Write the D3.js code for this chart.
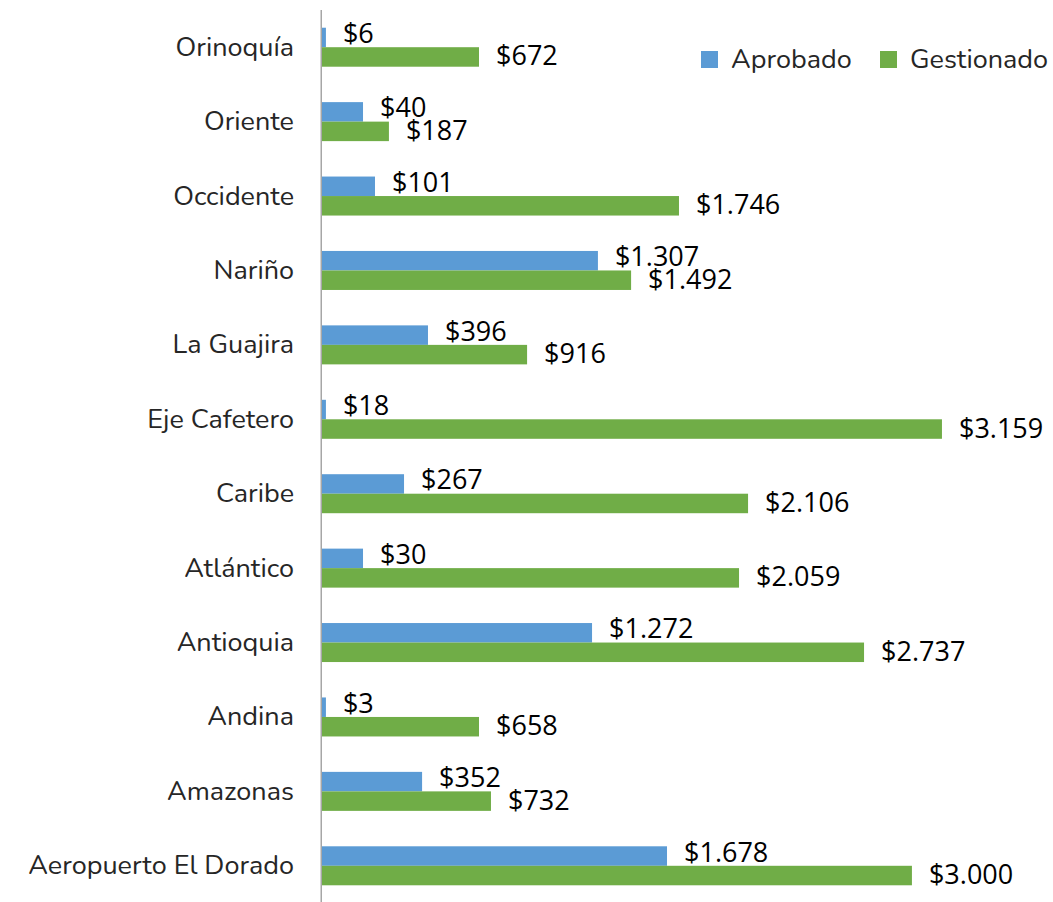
<!DOCTYPE html>
<html>
<head>
<meta charset="utf-8">
<script src="https://cdn.jsdelivr.net/npm/d3@7"></script>
<style>
  body { margin: 0; background: #fff; }
  svg { display: block; }
</style>
</head>
<body>
<div id="chart"></div>
<script>
// Regiones, de arriba hacia abajo
const regiones = [
  "Orinoquía", "Oriente", "Occidente", "Nariño", "La Guajira", "Eje Cafetero",
  "Caribe", "Atlántico", "Antioquia", "Andina", "Amazonas", "Aeropuerto El Dorado"
];

// Largo de las barras
const aprobado   = [20, 209, 270, 1406, 540, 20, 418, 209, 1376, 20, 510, 1758];
const gestionado = [800, 341, 1819, 1575, 1045, 3159, 2171, 2125, 2762, 800, 861, 3006];

// Etiquetas de datos tal como aparecen
const etiquetasAprobado   = ["$6", "$40", "$101", "$1.307", "$396", "$18", "$267", "$30", "$1.272", "$3", "$352", "$1.678"];
const etiquetasGestionado = ["$672", "$187", "$1.746", "$1.492", "$916", "$3.159", "$2.106", "$2.059", "$2.737", "$658", "$732", "$3.000"];

const series = ["Aprobado", "Gestionado"];
const colores = ["#5B9BD5", "#70AD47"];

const width = 1053, height = 902;
const ejeX = 322;

const svg = d3.select("#chart").append("svg")
  .attr("width", width)
  .attr("height", height);

// Escalas
const x = d3.scaleLinear().domain([0, 3200]).range([ejeX, ejeX + 628]);
const y = d3.scaleBand().domain(regiones).range([10, 903]);
const altoBarra = 19.5;

const fuenteCat = "Nunito, Lato, 'Noto Sans', sans-serif";
const fuenteVal = "'Segoe UI', 'Open Sans', 'Noto Sans', sans-serif";

// Barras
regiones.forEach((r, i) => {
  const c = y(r) + y.bandwidth() / 2;

  svg.append("rect")
    .attr("x", x(0))
    .attr("y", c - altoBarra)
    .attr("width", x(aprobado[i]) - x(0))
    .attr("height", altoBarra)
    .attr("fill", colores[0]);

  svg.append("rect")
    .attr("x", x(0))
    .attr("y", c)
    .attr("width", x(gestionado[i]) - x(0))
    .attr("height", altoBarra)
    .attr("fill", colores[1]);

  // Etiquetas de datos
  svg.append("text")
    .attr("x", x(aprobado[i]) + 17)
    .attr("y", c - altoBarra / 2 - 5)
    .attr("dominant-baseline", "central")
    .style("font-family", fuenteVal)
    .style("font-size", "27px")
    .style("fill", "#000")
    .text(etiquetasAprobado[i]);

  svg.append("text")
    .attr("x", x(gestionado[i]) + 17)
    .attr("y", c + altoBarra / 2 - 2)
    .attr("dominant-baseline", "central")
    .style("font-family", fuenteVal)
    .style("font-size", "27px")
    .style("fill", "#000")
    .text(etiquetasGestionado[i]);

  // Nombre de la región
  svg.append("text")
    .attr("x", 294)
    .attr("y", c)
    .attr("text-anchor", "end")
    .attr("dominant-baseline", "central")
    .style("font-family", fuenteCat)
    .style("font-size", "27px")
    .style("fill", "#262626")
    .text(r);
});

// Eje vertical
svg.append("line")
  .attr("x1", ejeX - 0.75).attr("x2", ejeX - 0.75)
  .attr("y1", 10).attr("y2", height)
  .attr("stroke", "#A6A6A6")
  .attr("stroke-width", 1.5);

// Leyenda
const leyendaX = [701, 880];
series.forEach((s, i) => {
  svg.append("rect")
    .attr("x", leyendaX[i])
    .attr("y", 51)
    .attr("width", 17)
    .attr("height", 17)
    .attr("fill", colores[i]);
  svg.append("text")
    .attr("x", leyendaX[i] + 30)
    .attr("y", 59.5)
    .attr("dominant-baseline", "central")
    .style("font-family", fuenteCat)
    .style("font-size", "27px")
    .style("fill", "#262626")
    .text(s);
});
</script>
</body>
</html>
